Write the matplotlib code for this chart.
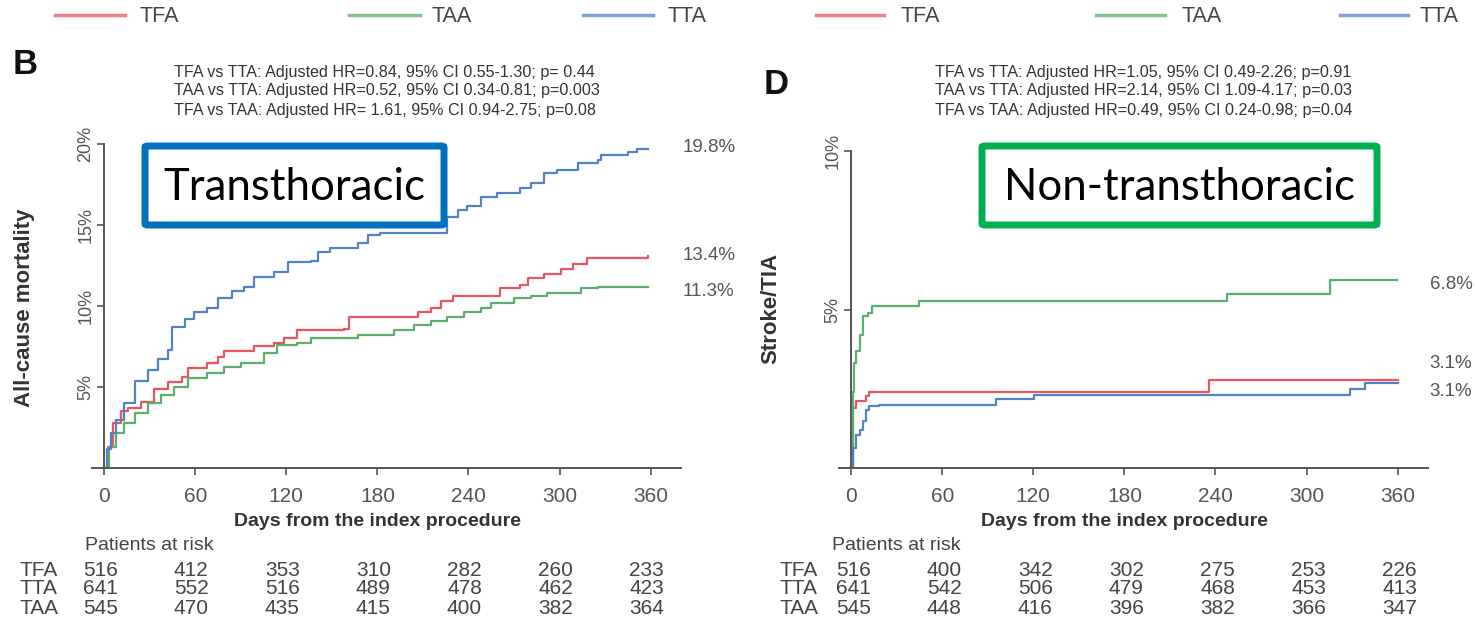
import matplotlib
matplotlib.use("Agg")
import matplotlib.pyplot as plt
import matplotlib.transforms as mtransforms
from matplotlib.patches import FancyBboxPatch

W, H = 1475, 625

## Data
day_ticks = [0, 60, 120, 180, 240, 300, 360]
group_names = ["TFA", "TAA", "TTA"]
risk_rows = ["TFA", "TTA", "TAA"]

# panel B: all-cause mortality (%), step curves
b_tfa_days = [0, 2.6, 5.9, 11, 15.6, 24, 33, 42, 51, 55, 68, 75, 79, 99, 112, 118.5, 127, 158, 161,
              204, 206.5, 215, 222, 230, 261, 274, 279, 290, 301, 309, 318, 358]
b_tfa_pct = [0, 1.3, 2.8, 3.5, 3.7, 4.1, 4.9, 5.3, 5.6, 6.2, 6.5, 6.85, 7.2, 7.5, 7.7, 8.0, 8.5, 8.6, 9.3,
             9.3, 9.6, 9.9, 10.3, 10.6, 11.1, 11.3, 11.7, 12.0, 12.3, 12.6, 12.95, 13.1]
b_taa_days = [0, 3.5, 7.9, 13, 20, 29, 37.5, 46, 55, 68, 79, 90, 105, 114, 127, 136, 167, 191,
              204, 215, 226, 237, 248, 255, 270, 281, 292, 314, 325, 358]
b_taa_pct = [0, 1.3, 2.15, 2.8, 3.4, 4.0, 4.5, 5.0, 5.55, 5.85, 6.25, 6.5, 7.1, 7.6, 7.7, 8.0, 8.2, 8.5,
             8.8, 9.1, 9.3, 9.6, 9.9, 10.2, 10.5, 10.6, 10.8, 11.1, 11.2, 11.2]
b_tta_days = [0, 2, 4.6, 7.9, 13, 20, 29, 35.5, 42, 45, 53, 59, 68, 75, 84, 92, 99, 112, 121, 136,
              141, 149, 167, 174, 182, 226, 233, 239, 248, 259, 274, 281, 290, 298, 312, 325, 327,
              345, 351, 358]
b_tta_pct = [0, 1.2, 2.15, 2.96, 4.0, 5.4, 6.05, 6.7, 7.3, 8.7, 9.2, 9.6, 9.9, 10.5, 10.9, 11.2, 11.8,
             12.1, 12.7, 12.8, 13.3, 13.6, 13.9, 14.4, 14.5, 15.5, 15.9, 16.2, 16.7, 17.0, 17.3, 17.6,
             18.2, 18.4, 18.8, 19.0, 19.3, 19.5, 19.7, 19.7]
b_end_labels = ["13.4%", "11.3%", "19.8%"]
b_risk = [[516, 412, 353, 310, 282, 260, 233],
          [641, 552, 516, 489, 478, 462, 423],
          [545, 470, 435, 415, 400, 382, 364]]
b_stats = ["TFA vs TTA: Adjusted HR=0.84, 95% CI 0.55-1.30; p= 0.44",
           "TAA vs TTA: Adjusted HR=0.52, 95% CI 0.34-0.81; p=0.003",
           "TFA vs TAA: Adjusted HR= 1.61, 95% CI 0.94-2.75; p=0.08"]

# panel D: stroke/TIA (%)
d_tfa_days = [0, 1, 3.5, 10, 12, 14.5, 235.7, 360]
d_tfa_pct = [0, 1.9, 2.1, 2.27, 2.4, 2.4, 2.77, 2.77]
d_taa_days = [0, 1, 2, 3.5, 5.7, 7.9, 11, 14, 45, 247.6, 315.6, 359.4]
d_taa_pct = [0, 2.4, 3.3, 3.7, 4.2, 4.8, 4.9, 5.1, 5.27, 5.48, 5.92, 5.92]
d_tta_days = [0, 1, 3.5, 5.7, 7.9, 10, 12, 18.6, 95.3, 120.6, 328.7, 338.6, 360]
d_tta_pct = [0, 0.64, 1.05, 1.2, 1.47, 1.83, 1.95, 1.99, 2.17, 2.3, 2.48, 2.69, 2.69]
d_end_labels = ["3.1%", "6.8%", "3.1%"]
d_risk = [[516, 400, 342, 302, 275, 253, 226],
          [641, 542, 506, 479, 468, 453, 413],
          [545, 448, 416, 396, 382, 366, 347]]
d_stats = ["TFA vs TTA: Adjusted HR=1.05, 95% CI 0.49-2.26; p=0.91",
           "TAA vs TTA: Adjusted HR=2.14, 95% CI 1.09-4.17; p=0.03",
           "TFA vs TAA: Adjusted HR=0.49, 95% CI 0.24-0.98; p=0.04"]

colors = {"TFA": "#E9545E", "TAA": "#5BAE6C", "TTA": "#5382C4"}
plt.rcParams["font.family"] = ["Liberation Sans", "DejaVu Sans"]


def fx(px):
    return px / W


def fy(py):
    return 1 - py / H


fig = plt.figure(figsize=(W / 100, H / 100), dpi=100)


def panel(left_px, top_px, ymax, yticks, curves, end_labels, label_y, ylabel, ylabel_x,
          letter, letter_xy, stats, stats_x, risk, row_x, risk_dx):
    ax = fig.add_axes([fx(left_px), fy(468), 589 / W, (468 - top_px) / H])
    ax.set_xlim(-8, 380)
    ax.set_ylim(0, ymax)
    for name, (d, p) in curves.items():
        ax.step(d, p, where="post", color=colors[name], lw=1.6)
    for s in ["top", "right"]:
        ax.spines[s].set_visible(False)
    ax.spines["left"].set_position(("data", 0))
    ax.spines["left"].set_bounds(0, yticks[-1])
    for s in ["left", "bottom"]:
        ax.spines[s].set_color("#555555")
        ax.spines[s].set_linewidth(1.4)
    ax.set_xticks(day_ticks)
    ax.set_xticklabels([str(d) for d in day_ticks], fontsize=15, color="#555555")
    ax.set_yticks(yticks)
    ax.set_yticklabels([f"{t}%" for t in yticks], rotation=90, va="center",
                       fontsize=13, color="#555555")
    ax.tick_params(axis="x", length=5, width=1.2, color="#555555", pad=9)
    ax.tick_params(axis="y", length=5, width=1.2, color="#555555", pad=2)
    for (name, (d, p)), lab, ly in zip(curves.items(), end_labels, label_y):
        ax.text(381, ly, lab, ha="left", va="center", fontsize=13.5, color="#555555", clip_on=False)

    fig.text(fx(ylabel_x), fy(308), ylabel, rotation=90, ha="center", va="center",
             fontsize=16, fontweight="bold", color="#333333")
    center = ax.transData.transform((180, 0))[0]
    fig.text(center / W, fy(522), "Days from the index procedure", ha="center", va="center",
             fontsize=14, fontweight="bold", color="#333333")
    fig.text(fx(letter_xy[0]), fy(letter_xy[1]), letter, ha="left", va="center",
             fontsize=25, fontweight="bold", color="#111111")
    for i, line in enumerate(stats):
        fig.text(fx(stats_x), fy(72 + 19 * i), line, ha="left", va="center",
                 fontsize=11.6, color="#333333")

    # patients at risk table
    trans = mtransforms.blended_transform_factory(ax.transData, fig.transFigure)
    trans = trans + mtransforms.ScaledTranslation(risk_dx / 100, 0, fig.dpi_scale_trans)
    fig.text(fx(ax.transData.transform((0, 0))[0] - 19), fy(546), "Patients at risk",
             ha="left", va="center", fontsize=14, color="#444444")
    for r, (name, vals) in enumerate(zip(risk_rows, risk)):
        yy = fy(570 + 19 * r)
        fig.text(fx(row_x), yy, name, ha="left", va="center", fontsize=15, color="#444444")
        for d, v in zip(day_ticks, vals):
            ax.text(d, yy, str(v), transform=trans, ha="center", va="center",
                    fontsize=15, color="#444444")
    return ax


panel(92, 118, 21.6, [5, 10, 15, 20],
      {"TFA": (b_tfa_days, b_tfa_pct), "TAA": (b_taa_days, b_taa_pct), "TTA": (b_tta_days, b_tta_pct)},
      b_end_labels, [13.1, 10.9, 19.75], "All-cause mortality", 25, "B", (13, 64),
      b_stats, 174, b_risk, 20, -4)

panel(839, 128, 10.73, [5, 10],
      {"TFA": (d_tfa_days, d_tfa_pct), "TAA": (d_taa_days, d_taa_pct), "TTA": (d_tta_days, d_tta_pct)},
      d_end_labels, [3.31, 5.8, 2.43], "Stroke/TIA", 771, "D", (764, 84),
      d_stats, 935, d_risk, 780, 2)

# legends on top
legend_pos = [[(55, 125, 140), (349, 420, 432), (583, 653, 667)],
              [(816, 884, 900), (1096, 1165, 1181), (1340, 1408, 1420)]]
for row in legend_pos:
    for name, (x0, x1, xt) in zip(group_names, row):
        fig.add_artist(plt.Line2D([fx(x0), fx(x1)], [fy(15), fy(15)], color=colors[name],
                                  lw=2.5, alpha=0.75, transform=fig.transFigure))
        fig.text(fx(xt), fy(17), name, ha="left", va="center", fontsize=15.5, color="#444444")

# highlighted boxes
boxes = [("Transthoracic", 142, 447, "#0070C0"), ("Non-transthoracic", 979, 1380, "#00B050")]
for label, x0, x1, col in boxes:
    fig.patches.append(FancyBboxPatch((fx(x0 + 3), fy(225)), fx(x1 - x0 - 6), (225 - 146) / H,
                                      boxstyle="round,pad=0,rounding_size=0.002",
                                      transform=fig.transFigure, facecolor="white",
                                      edgecolor=col, lw=5, figure=fig))
    fig.text(fx((x0 + x1) / 2), fy(187), label, ha="center", va="center",
             fontsize=31.5, color="black", family=["Lato", "DejaVu Sans"])

fig.savefig("out.png", dpi=100)
